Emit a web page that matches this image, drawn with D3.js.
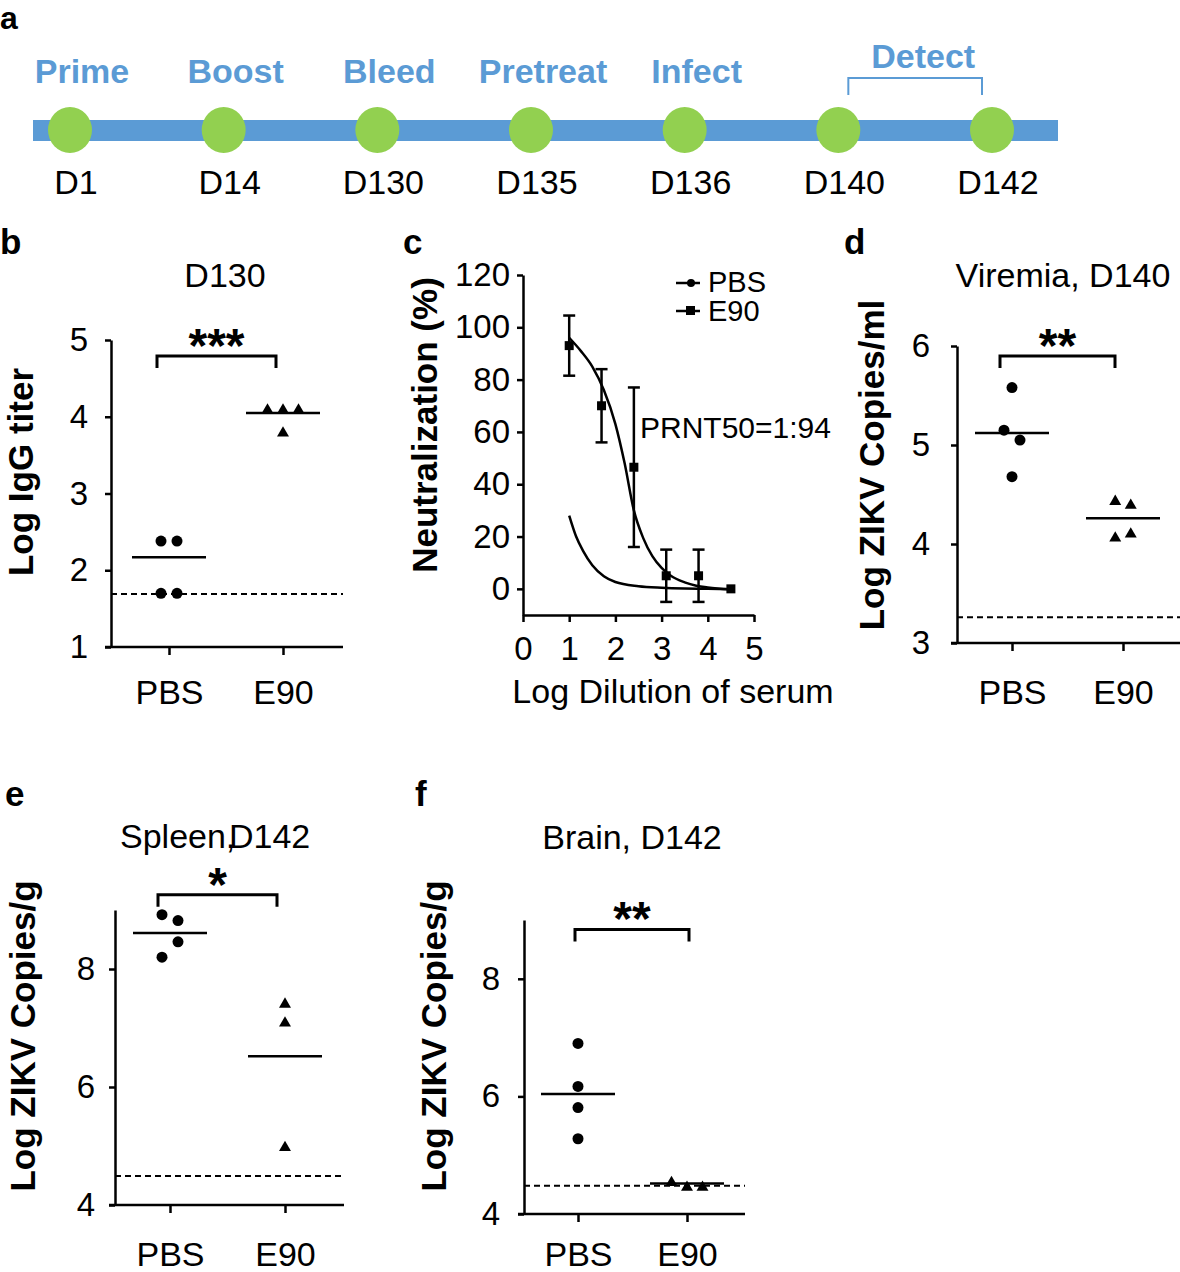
<!DOCTYPE html>
<html>
<head>
<meta charset="utf-8">
<script src="https://cdn.jsdelivr.net/npm/d3@7"></script>
<style>
body { margin: 0; background: #fff; }
svg { font-family: "Liberation Sans", Arial, sans-serif; }
.axis path, .axis line { stroke: #000; stroke-width: 2.5; }
.axis text { fill: #000; }
</style>
</head>
<body>
<svg width="1180" height="1272"></svg>
<script>
// ---- a: timeline
var days = ["D1", "D14", "D130", "D135", "D136", "D140", "D142"];
var events = ["Prime", "Boost", "Bleed", "Pretreat", "Infect"];
var detectDays = ["D140", "D142"];

// ---- b, d, e, f: dot plots
var groups = ["PBS", "E90"];

var igg_pbs = [2.38, 2.38, 1.70, 1.70];
var igg_e90 = [4.10, 4.10, 4.10, 3.80];
var igg_mean = [2.17, 4.05];
var igg_limit = 1.69;
var igg_ticks = [1, 2, 3, 4, 5];

var vir_pbs = [5.58, 5.15, 5.05, 4.68];
var vir_e90 = [4.44, 4.40, 4.07, 4.11];
var vir_mean = [5.12, 4.26];
var vir_limit = 3.26;
var vir_ticks = [3, 4, 5, 6];

var spl_pbs = [8.92, 8.82, 8.20, 8.46];
var spl_e90 = [7.42, 7.10, 4.99];
var spl_mean = [8.61, 6.52];
var spl_limit = 4.49;
var spl_ticks = [4, 6, 8];

var brn_pbs = [6.90, 6.17, 5.81, 5.28];
var brn_e90 = [4.55, 4.47, 4.47];
var brn_mean = [6.04, 4.52];
var brn_limit = 4.48;
var brn_ticks = [4, 6, 8];

// ---- c: neutralization
var dil = [1.0, 1.7, 2.4, 3.1, 3.8, 4.5];
var e90_neut = [93, 70, 46.5, 5, 5, 0];
var e90_sem = [11.5, 14, 30.5, 10, 10, 0];
var e90_fit_x = [1.0, 1.25, 1.5, 1.75, 2.0, 2.2, 2.4, 2.6, 2.8, 3.0, 3.2, 3.5, 3.75, 4.0, 4.5];
var e90_fit_y = [96, 91, 85, 76, 63, 48, 30, 19.5, 12.5, 8, 5, 2.5, 1.2, 0.5, -0.2];
var pbs_fit_x = [1.0, 1.15, 1.3, 1.5, 1.75, 2.0, 2.5, 3.0, 3.5, 4.0, 4.5];
var pbs_fit_y = [28, 20, 14.5, 9, 4.8, 2.6, 1.0, 0.4, 0.1, 0, -0.2];
var neut_ticks = [0, 20, 40, 60, 80, 100, 120];
var dil_ticks = [0, 1, 2, 3, 4, 5];

var svg = d3.select("svg");
var blue = "#5b9bd5", green = "#92d050";
var fmt = d3.format("d");

function letter(t, x, y, fs) {
    svg.append("text").attr("x", x).attr("y", y)
        .attr("font-size", fs || 35).attr("font-weight", "bold").text(t);
}

// ================= a
letter("a", 0, 29, 32);
var tx = d3.scalePoint().domain(days).range([70, 992]);
var tl = svg.append("g");
tl.append("rect").attr("x", 33).attr("y", 120).attr("width", 1025).attr("height", 21).attr("fill", blue);
tl.selectAll("ellipse").data(days).enter().append("ellipse")
    .attr("cx", function(d) { return tx(d); }).attr("cy", 130)
    .attr("rx", 22).attr("ry", 23).attr("fill", green);
tl.selectAll("text.day").data(days).enter().append("text").attr("class", "day")
    .attr("x", function(d) { return tx(d) + 6; }).attr("y", 194)
    .attr("text-anchor", "middle").attr("font-size", 34).text(function(d) { return d; });
tl.selectAll("text.ev").data(events).enter().append("text").attr("class", "ev")
    .attr("x", function(d, i) { return tx(days[i]) + 12; }).attr("y", 83)
    .attr("text-anchor", "middle").attr("font-size", 34).attr("font-weight", "bold")
    .attr("fill", blue).text(function(d) { return d; });
var dx0 = tx(detectDays[0]) + 10, dx1 = tx(detectDays[1]) - 10;
tl.append("path").attr("d", "M" + dx0 + ",95V78H" + dx1 + "V95")
    .attr("fill", "none").attr("stroke", blue).attr("stroke-width", 2);
tl.append("text").attr("x", (dx0 + dx1) / 2 + 8).attr("y", 68).attr("text-anchor", "middle")
    .attr("font-size", 34).attr("font-weight", "bold").attr("fill", blue).text("Detect");

// ================= dot plot panels
function dodge(vals, y, w) {
    var idx = vals.map(function(v, i) { return i; }).sort(function(a, b) { return vals[b] - vals[a]; });
    var rows = [], cur = null;
    idx.forEach(function(i) {
        if (cur && Math.abs(y(vals[cur[0]]) - y(vals[i])) < 16.5) cur.push(i);
        else { cur = [i]; rows.push(cur); }
    });
    var off = vals.map(function() { return 0; });
    rows.forEach(function(r) {
        r.sort(function(a, b) { return a - b; });
        r.forEach(function(i, k) { off[i] = (k - (r.length - 1) / 2) * w; });
    });
    return off;
}

function dotPanel(o) {
    var g = svg.append("g");
    var y = d3.scaleLinear().domain(o.domain).range([o.yBot, o.yTop]);
    var x = d3.scalePoint().domain(groups).range(o.cats);

    g.append("g").attr("class", "axis").attr("transform", "translate(" + o.x0 + ",0)")
        .call(d3.axisLeft(y).tickValues(o.ticks).tickFormat(fmt).tickSize(6).tickSizeOuter(0).tickPadding(o.tickPad))
        .call(function(s) { s.selectAll("text").attr("font-size", 33).attr("font-family", null); });

    var xa = g.append("g").attr("class", "axis").attr("transform", "translate(0," + o.yBot + ")")
        .call(d3.axisBottom(x).tickSize(8).tickPadding(o.catPad))
        .call(function(s) { s.selectAll("text").attr("font-size", 34).attr("font-family", null); });
    xa.select(".domain").remove();
    g.append("line").attr("x1", o.x0 - 6).attr("x2", o.x1).attr("y1", o.yBot).attr("y2", o.yBot)
        .attr("stroke", "#000").attr("stroke-width", 2.5);

    g.append("line").attr("x1", o.x0).attr("x2", o.x1)
        .attr("y1", y(o.limit)).attr("y2", y(o.limit))
        .attr("stroke", "#000").attr("stroke-width", 2).attr("stroke-dasharray", "6,4");

    // group means
    g.selectAll("line.mean").data(o.means).enter().append("line").attr("class", "mean")
        .attr("x1", function(d, i) { return x(groups[i]) - 37; })
        .attr("x2", function(d, i) { return x(groups[i]) + 37; })
        .attr("y1", function(d) { return y(d); }).attr("y2", function(d) { return y(d); })
        .attr("stroke", "#000").attr("stroke-width", 2.5);

    var offP = dodge(o.pbs, y, 16);
    g.selectAll("circle").data(o.pbs).enter().append("circle")
        .attr("cx", function(d, i) { return x("PBS") + offP[i]; })
        .attr("cy", function(d) { return y(d); }).attr("r", 5.5).attr("fill", "#000");
    var offE = dodge(o.e90, y, 15.5);
    var tri = d3.symbol().type(d3.symbolTriangle).size(62);
    g.selectAll("path.tri").data(o.e90).enter().append("path").attr("class", "tri")
        .attr("d", tri)
        .attr("transform", function(d, i) { return "translate(" + (x("E90") + offE[i]) + "," + (y(d) + 1) + ")"; })
        .attr("fill", "#000");

    // significance bracket
    var by = y(o.bracket), b0 = x("PBS") + o.bs[0], b1 = x("E90") + o.bs[1];
    g.append("path").attr("d", "M" + b0 + "," + (by + 12) + "V" + by + "H" + b1 + "V" + (by + 12))
        .attr("fill", "none").attr("stroke", "#000").attr("stroke-width", 3);
    g.append("text").attr("x", (b0 + b1) / 2).attr("y", by + 6).attr("text-anchor", "middle")
        .attr("font-size", 48).attr("font-weight", "bold").text(o.stars);

    if (o.title) {
        g.append("text").attr("x", o.titleX).attr("y", o.titleY).attr("text-anchor", "middle")
            .attr("font-size", 34).text(o.title);
    }
    g.append("text").attr("transform", "translate(" + o.ylabX + "," + o.ylabY + ") rotate(-90)")
        .attr("text-anchor", "middle").attr("font-size", 35).attr("font-weight", "bold").text(o.ylab);
    letter(o.letter, o.lx, o.ly);
    return g;
}

dotPanel({ x0: 111, x1: 343, yTop: 340, yBot: 647, domain: [1, 5], ticks: igg_ticks,
    cats: [169, 283], tickPad: 17, catPad: 25, pbs: igg_pbs, e90: igg_e90, means: igg_mean,
    limit: igg_limit, title: "D130", titleX: 225, titleY: 287, ylab: "Log IgG titer",
    ylabX: 33, ylabY: 472, bracket: 4.79, bs: [-12, -7], stars: "***", letter: "b", lx: 0, ly: 254 });

dotPanel({ x0: 957, x1: 1180, yTop: 346, yBot: 643, domain: [3, 6], ticks: vir_ticks,
    cats: [1012, 1123], tickPad: 21, catPad: 29, pbs: vir_pbs, e90: vir_e90, means: vir_mean,
    limit: vir_limit, title: "Viremia, D140", titleX: 1063, titleY: 287, ylab: "Log ZIKV Copies/ml",
    ylabX: 884, ylabY: 465, bracket: 5.9, bs: [-12, -8], stars: "**", letter: "d", lx: 844, ly: 254 });

var pe = dotPanel({ x0: 115, x1: 344, yTop: 910, yBot: 1205, domain: [4, 9], ticks: spl_ticks,
    cats: [170, 285], tickPad: 14, catPad: 29, pbs: spl_pbs, e90: spl_e90, means: spl_mean,
    limit: spl_limit, title: null, ylab: "Log ZIKV Copies/g",
    ylabX: 35, ylabY: 1036, bracket: 9.26, bs: [-12, -8], stars: "*", letter: "e", lx: 5, ly: 806 });
pe.append("text").attr("x", 120).attr("y", 848).attr("font-size", 34).text("Spleen,");
pe.append("text").attr("x", 229).attr("y", 848).attr("font-size", 34).text("D142");

dotPanel({ x0: 524, x1: 745, yTop: 920, yBot: 1214, domain: [4, 9], ticks: brn_ticks,
    cats: [578, 687], tickPad: 18, catPad: 20, pbs: brn_pbs, e90: brn_e90, means: brn_mean,
    limit: brn_limit, title: "Brain, D142", titleX: 632, titleY: 849, ylab: "Log ZIKV Copies/g",
    ylabX: 446, ylabY: 1036, bracket: 8.84, bs: [-3, 2], stars: "**", letter: "f", lx: 415, ly: 806 });

// ================= c
letter("c", 403, 254);
var gc = svg.append("g");
var xC = d3.scaleLinear().domain([0, 5]).range([523, 754]);
var yC = d3.scaleLinear().domain([-10, 120]).range([615, 275]);

gc.append("g").attr("class", "axis").attr("transform", "translate(523,0)")
    .call(d3.axisLeft(yC).tickValues(neut_ticks).tickFormat(fmt).tickSize(6).tickSizeOuter(0).tickPadding(7))
    .call(function(s) { s.selectAll("text").attr("font-size", 33).attr("font-family", null); });
gc.append("g").attr("class", "axis").attr("transform", "translate(0,615)")
    .call(d3.axisBottom(xC).tickValues(dil_ticks).tickFormat(fmt).tickSize(7).tickSizeOuter(0).tickPadding(15))
    .call(function(s) { s.selectAll("text").attr("font-size", 33).attr("font-family", null); });

var line = d3.line().x(function(d) { return xC(d[0]); }).y(function(d) { return yC(d[1]); })
    .curve(d3.curveMonotoneX);
gc.append("path").datum(d3.zip(e90_fit_x, e90_fit_y)).attr("d", line)
    .attr("fill", "none").attr("stroke", "#000").attr("stroke-width", 2.5);
gc.append("path").datum(d3.zip(pbs_fit_x, pbs_fit_y)).attr("d", line)
    .attr("fill", "none").attr("stroke", "#000").attr("stroke-width", 2.5);

var pts = d3.zip(dil, e90_neut, e90_sem).filter(function(d) { return d[2] > 0; });
var eb = gc.selectAll("g.eb").data(pts).enter().append("g").attr("class", "eb")
    .attr("stroke", "#000").attr("stroke-width", 2.5);
eb.append("line").attr("x1", function(d) { return xC(d[0]); }).attr("x2", function(d) { return xC(d[0]); })
    .attr("y1", function(d) { return yC(d[1] - d[2]); }).attr("y2", function(d) { return yC(d[1] + d[2]); });
eb.append("line").attr("x1", function(d) { return xC(d[0]) - 6; }).attr("x2", function(d) { return xC(d[0]) + 6; })
    .attr("y1", function(d) { return yC(d[1] - d[2]); }).attr("y2", function(d) { return yC(d[1] - d[2]); });
eb.append("line").attr("x1", function(d) { return xC(d[0]) - 6; }).attr("x2", function(d) { return xC(d[0]) + 6; })
    .attr("y1", function(d) { return yC(d[1] + d[2]); }).attr("y2", function(d) { return yC(d[1] + d[2]); });
gc.selectAll("rect.sq").data(d3.zip(dil, e90_neut)).enter().append("rect").attr("class", "sq")
    .attr("x", function(d) { return xC(d[0]) - 4.5; }).attr("y", function(d) { return yC(d[1]) - 4.5; })
    .attr("width", 9).attr("height", 9).attr("fill", "#000");

// legend
var lg = gc.append("g");
lg.append("line").attr("x1", 676).attr("x2", 700).attr("y1", 283).attr("y2", 283).attr("stroke", "#000").attr("stroke-width", 2.5);
lg.append("circle").attr("cx", 691).attr("cy", 283).attr("r", 4).attr("fill", "#000");
lg.append("line").attr("x1", 676).attr("x2", 700).attr("y1", 311).attr("y2", 311).attr("stroke", "#000").attr("stroke-width", 2.5);
lg.append("rect").attr("x", 686).attr("y", 306).attr("width", 9).attr("height", 9).attr("fill", "#000");
lg.append("text").attr("x", 708).attr("y", 292).attr("font-size", 29).text(groups[0]);
lg.append("text").attr("x", 708).attr("y", 321).attr("font-size", 29).text(groups[1]);

gc.append("text").attr("x", 640).attr("y", 438).attr("font-size", 30).text("PRNT50=1:94");
gc.append("text").attr("x", 673).attr("y", 703).attr("text-anchor", "middle").attr("font-size", 34)
    .text("Log Dilution of serum");
gc.append("text").attr("transform", "translate(437,425) rotate(-90)").attr("text-anchor", "middle")
    .attr("font-size", 35).attr("font-weight", "bold").text("Neutralization (%)");
</script>
</body>
</html>
